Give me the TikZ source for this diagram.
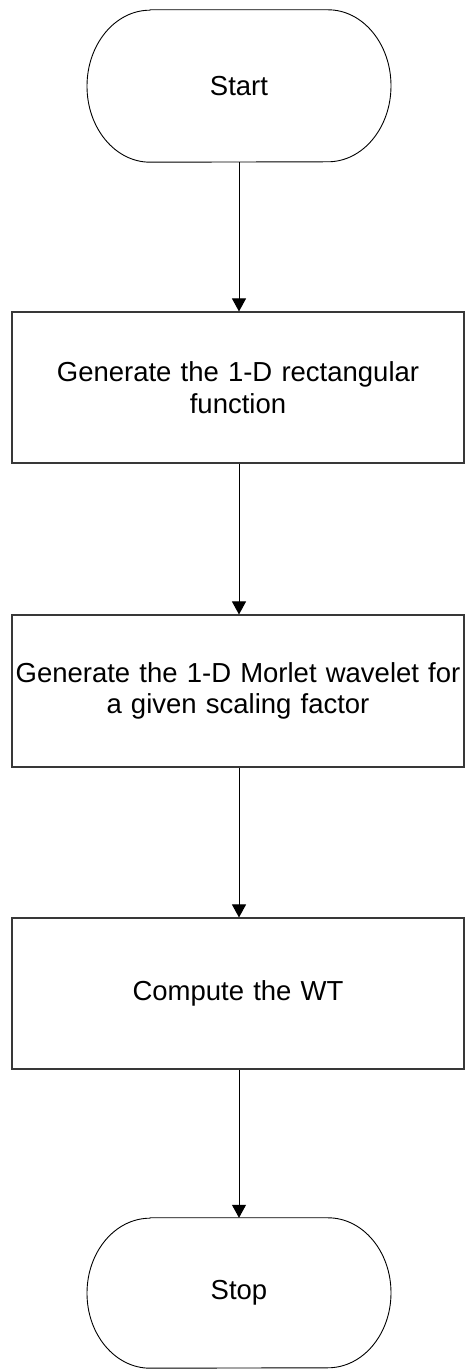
\documentclass[tikz,border=0pt]{standalone}
\usepackage{fontspec}
\setmainfont{Liberation Sans}
\usetikzlibrary{arrows.meta}
\begin{document}
\begin{tikzpicture}[x=1pt,y=1pt,
  txt/.style={font=\fontsize{27.5}{31.6}\selectfont, align=center, inner sep=0pt},
  procbox/.style={txt, draw=black!78, line width=1.1pt, minimum width=452pt, text width=450pt},
  termbox/.style={txt, minimum width=304pt},
  outline/.style={draw=black, line width=0.9pt},
  flow/.style={draw=black, line width=1pt, -{Triangle[width=14pt,length=13pt]}}
]
\useasboundingbox (0,0) rectangle (468,1369);
\fill[white] (0,0) rectangle (468,1369);

\node[termbox, minimum height=152pt] (start) at (239,1283) {Start};
\node[procbox, minimum height=151pt] (b1) at (238,981.5) {Generate the 1-D rectangular\\function};
\node[procbox, minimum height=152pt] (b2) at (238,678) {Generate the 1-D Morlet wavelet for\\a given scaling factor};
\node[procbox, minimum height=151pt] (b3) at (238,375.5) {Compute the WT};
\node[termbox, minimum height=150pt] (stop) at (239,76) {Stop};

\draw[outline] ([xshift=-89pt]start.north) -- ([xshift=89pt]start.north)
  arc[start angle=90,end angle=-90,x radius=63,y radius=76]
  -- ([xshift=-89pt]start.south)
  arc[start angle=270,end angle=90,x radius=63,y radius=76] -- cycle;
\draw[outline] ([xshift=-89pt]stop.north) -- ([xshift=89pt]stop.north)
  arc[start angle=90,end angle=-90,x radius=63,y radius=75]
  -- ([xshift=-89pt]stop.south)
  arc[start angle=270,end angle=90,x radius=63,y radius=75] -- cycle;

\draw[flow] (start.south) -- (start.south |- b1.north);
\draw[flow] (b1.south -| start.south) -- (start.south |- b2.north);
\draw[flow] (b2.south -| start.south) -- (start.south |- b3.north);
\draw[flow] (b3.south -| start.south) -- (stop.north);
\end{tikzpicture}
\end{document}
